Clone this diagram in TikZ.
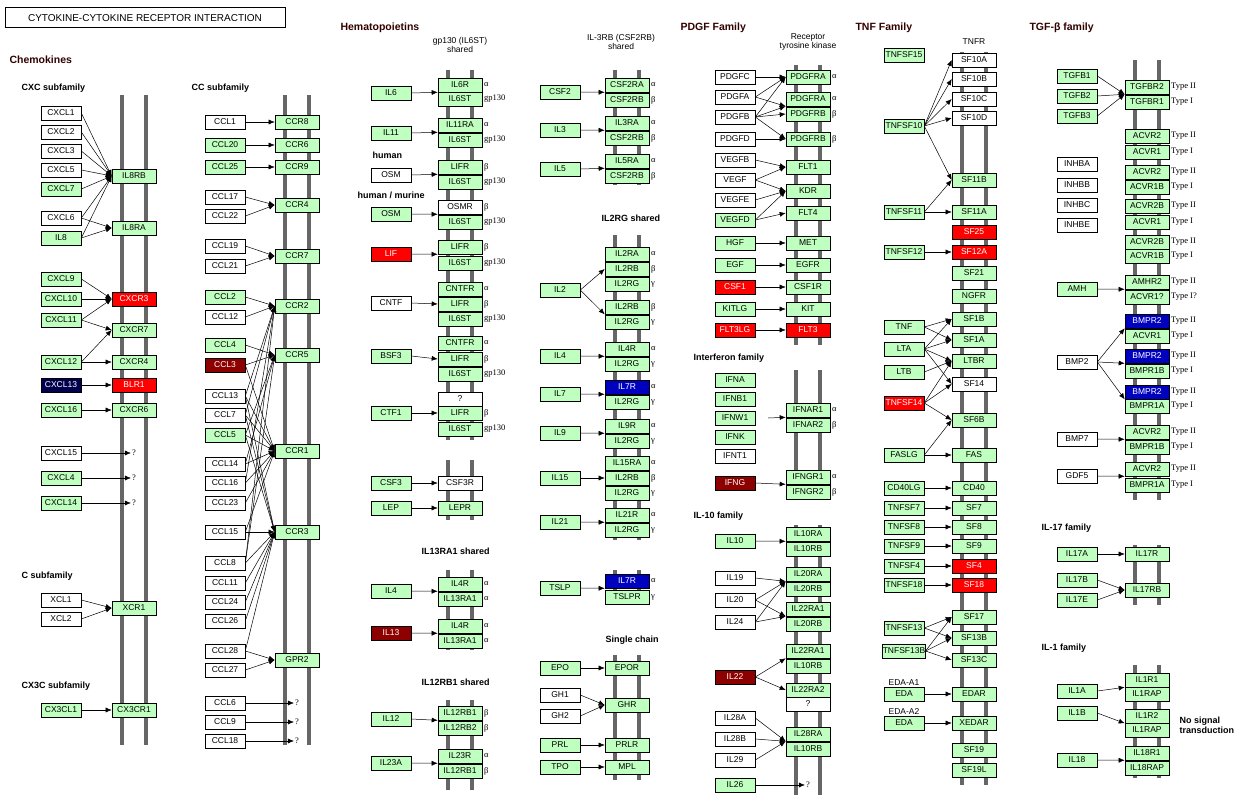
\documentclass[tikz,border=0pt]{standalone}
\usepackage{fontspec}
\setmainfont{Liberation Sans}
\newfontfamily\gkfont{Liberation Serif}
\usetikzlibrary{arrows.meta}
\begin{document}
\begin{tikzpicture}[x=1pt,y=-1pt,
 bx/.style={draw=black,line width=0.6pt,inner sep=0pt,minimum height=14pt,font=\fontsize{8.5}{9}\selectfont},
 L/.style={bx,minimum width=40pt},
 R/.style={bx,minimum width=44pt},
 cg/.style={fill=green!25!white},
 cw/.style={fill=white},
 cr/.style={fill=red,text=white},
 cd/.style={fill=red!55!black,text=white},
 cb/.style={fill=blue!75!black,text=white},
 cn/.style={fill=blue!30!black,text=white},
 st/.code={\edef\tmp{#1}\expandafter\pgfkeysalso\expandafter{\tmp}},
 gk/.style={anchor=west,inner sep=1pt,font=\gkfont\fontsize{8.5}{8}\selectfont},
 hd/.style={anchor=west,font=\bfseries\fontsize{9}{10}\selectfont},
 HD/.style={anchor=west,font=\bfseries\fontsize{10.5}{12}\selectfont,text=red!20!black},
 sh/.style={align=center,font=\fontsize{8.5}{9}\selectfont},
 ar/.style={-{Latex[length=6pt,width=5pt]},line width=0.5pt},
 mb/.style={line width=3.5pt,draw=black!60}]
\useasboundingbox[fill=white] (0,0) rectangle (1237,800);
\newcommand\Bars[3]{\draw[mb] (#1-12,#2) -- (#1-12,#3); \draw[mb] (#1+12,#2) -- (#1+12,#3);}
\newcommand\Rc[2]{\foreach \n/\y/\s/\t/\g in {#2} {\node[R,st=\s] (\n) at (#1,\y) {\t}; \node[gk] at (#1+23,\y) {\g};}}
\newcommand\Lc[2]{\foreach \n/\y/\s/\t in {#2} {\node[L,st=\s] (\n) at (#1,\y) {\t};}}
\newcommand\A[1]{\foreach \a/\b in {#1} \draw[ar] (\a.east) -- (\b.west);}
\newcommand\AP[1]{\foreach \a/\b in {#1} \draw[ar] (\a.east) -- (\b.south west);}
% membranes
\Bars{134}{95}{745}\Bars{297}{95}{745}
\Bars{460}{70}{440}\Bars{460}{460}{520}\Bars{460}{570}{650}\Bars{460}{700}{790}
\Bars{627}{70}{185}\Bars{627}{235}{540}\Bars{627}{570}{605}\Bars{627}{655}{780}
\Bars{808}{65}{345}\Bars{808}{370}{500}\Bars{808}{525}{795}
\Bars{974}{52}{785}
\Bars{1147}{60}{500}\Bars{1147}{545}{605}\Bars{1147}{665}{778}
% headings
\node[draw,line width=1pt,minimum width=280pt,minimum height=20pt,font=\fontsize{10}{11}\selectfont] (title) at (145,18) {CYTOKINE-CYTOKINE RECEPTOR INTERACTION};
\node[HD] (h1) at (6,60) {Chemokines};
\node[hd] (h2) at (18,88) {CXC subfamily};
\node[hd] (h3) at (188,88) {CC subfamily};
\node[hd] (h4) at (18,576) {C subfamily};
\node[hd] (h5) at (18,686) {CX3C subfamily};
\node[HD] (h6) at (337,28) {Hematopoietins};
\node[sh] (h7) at (460,45) {gp130 (IL6ST)\\shared};
\node[hd] (h8) at (369,155) {human};
\node[hd] (h9) at (354,195) {human / murine};
\node[hd] (h10) at (418,551) {IL13RA1 shared};
\node[hd] (h11) at (418,682) {IL12RB1 shared};
\node[sh] (h12) at (621,42) {IL-3RB (CSF2RB)\\shared};
\node[hd] (h13) at (598,218) {IL2RG shared};
\node[hd] (h14) at (602,640) {Single chain};
\node[HD] (h15) at (677,28) {PDGF Family};
\node[sh] (h16) at (808,42) {Receptor\\tyrosine kinase};
\node[hd] (h17) at (690,358) {Interferon family};
\node[hd] (h18) at (690,516) {IL-10 family};
\node[HD] (h19) at (852,28) {TNF Family};
\node[sh] (h20) at (974,42) {TNFR};
\node[HD] (h21) at (1026,28) {TGF-β family};
\node[hd] (h22) at (1038,528) {IL-17 family};
\node[hd] (h23) at (1038,648) {IL-1 family};
\node[hd,align=left] (h24) at (1176,725) {No signal\\transduction};
\node[sh] (h25) at (904,683) {EDA-A1};
\node[sh] (h26) at (904,712) {EDA-A2};
% ---------- CXC
\Rc{134}{IL8RB/176/cg/IL8RB/,IL8RA/228/cg/IL8RA/,CXCR3/299/cr/CXCR3/,CXCR7/330/cg/CXCR7/,CXCR4/362/cg/CXCR4/,BLR1/385/cr/BLR1/,CXCR6/410/cg/CXCR6/,XCR1/608/cg/XCR1/,CX3CR1/710/cg/CX3CR1/}
\foreach \n/\y in {q1/453,q2/478,q3/503} \node[gk,anchor=center] (\n) at (134,\y) {?};
\Lc{61}{CXCL1/113/cw/CXCL1,CXCL2/132/cw/CXCL2,CXCL3/151/cw/CXCL3,CXCL5/170/cw/CXCL5,CXCL7/189/cg/CXCL7,CXCL6/218/cw/CXCL6,IL8/238/cg/IL8,CXCL9/279/cg/CXCL9,CXCL10/299/cg/CXCL10,CXCL11/320/cg/CXCL11,CXCL12/362/cg/CXCL12,CXCL13/385/cn/CXCL13,CXCL16/410/cg/CXCL16,CXCL15/453/cw/CXCL15,CXCL4/478/cg/CXCL4,CXCL14/503/cg/CXCL14,XCL1/600/cw/XCL1,XCL2/619/cw/XCL2,CX3CL1/710/cg/CX3CL1}
\A{CXCL1/IL8RB,CXCL2/IL8RB,CXCL3/IL8RB,CXCL5/IL8RB,CXCL7/IL8RB,CXCL6/IL8RB,IL8/IL8RB,CXCL6/IL8RA,IL8/IL8RA,CXCL9/CXCR3,CXCL10/CXCR3,CXCL11/CXCR3,CXCL11/CXCR7,CXCL12/CXCR7,CXCL12/CXCR4,CXCL13/BLR1,CXCL16/CXCR6,CXCL15/q1,CXCL4/q2,CXCL14/q3,XCL1/XCR1,XCL2/XCR1,CX3CL1/CX3CR1}
% ---------- CC
\Rc{297}{CCR8/122/cg/CCR8/,CCR6/145/cg/CCR6/,CCR9/167/cg/CCR9/,CCR4/205/cg/CCR4/,CCR7/256/cg/CCR7/,CCR2/306/cg/CCR2/,CCR5/355/cg/CCR5/,CCR1/451/cg/CCR1/,CCR3/532/cg/CCR3/,GPR2/660/cg/GPR2/}
\foreach \n/\y in {q4/703,q5/722,q6/741} \node[gk,anchor=center] (\n) at (297,\y) {?};
\Lc{225}{CCL1/122/cw/CCL1,CCL20/145/cg/CCL20,CCL25/167/cg/CCL25,CCL17/197/cw/CCL17,CCL22/216/cw/CCL22,CCL19/246/cw/CCL19,CCL21/266/cw/CCL21,CCL2/297/cg/CCL2,CCL12/317/cw/CCL12,CCL4/345/cg/CCL4,CCL3/365/cd/CCL3,CCL13/396/cw/CCL13,CCL7/415/cw/CCL7,CCL5/435/cg/CCL5,CCL14/464/cw/CCL14,CCL16/483/cw/CCL16,CCL23/503/cw/CCL23,CCL15/532/cw/CCL15,CCL8/563/cw/CCL8,CCL11/583/cw/CCL11,CCL24/602/cw/CCL24,CCL26/621/cw/CCL26,CCL28/651/cw/CCL28,CCL27/670/cw/CCL27,CCL6/703/cw/CCL6,CCL9/722/cw/CCL9,CCL18/741/cw/CCL18}
\A{CCL1/CCR8,CCL20/CCR6,CCL25/CCR9,CCL17/CCR4,CCL22/CCR4,CCL19/CCR7,CCL21/CCR7,CCL2/CCR2,CCL12/CCR2,CCL13/CCR2,CCL7/CCR2,CCL8/CCR2,CCL16/CCR2,CCL4/CCR5,CCL3/CCR5,CCL5/CCR5,CCL8/CCR5,CCL14/CCR5,CCL3/CCR1,CCL5/CCR1,CCL7/CCR1,CCL13/CCR1,CCL14/CCR1,CCL15/CCR1,CCL16/CCR1,CCL23/CCR1,CCL5/CCR3,CCL7/CCR3,CCL8/CCR3,CCL11/CCR3,CCL13/CCR3,CCL15/CCR3,CCL24/CCR3,CCL26/CCR3,CCL28/CCR3,CCL28/GPR2,CCL27/GPR2,CCL6/q4,CCL9/q5,CCL18/q6}
% ---------- Hematopoietins
\Rc{460}{IL6R/85/cg/IL6R/α,IL6STa/99/cg/IL6ST/gp130,IL11RA/125/cg/IL11RA/α,IL6STb/140/cg/IL6ST/gp130,LIFRa/167/cg/LIFR/β,IL6STc/182/cg/IL6ST/gp130,OSMR/207/cw/OSMR/β,IL6STd/222/cg/IL6ST/gp130,LIFRb/247/cg/LIFR/β,IL6STe/263/cg/IL6ST/gp130,CNTFRa/289/cg/CNTFR/α,LIFRc/304/cg/LIFR/β,IL6STf/319/cg/IL6ST/gp130,CNTFRb/343/cg/CNTFR/α,LIFRd/359/cg/LIFR/β,IL6STg/374/cg/IL6ST/gp130,hq/399/cw/?/,LIFRe/413/cg/LIFR/β,IL6STh/429/cg/IL6ST/gp130,CSF3R/483/cw/CSF3R/,LEPR/508/cg/LEPR/,IL4Ra/584/cg/IL4R/α,IL13RA1a/599/cg/IL13RA1/α,IL4Rb/626/cg/IL4R/α,IL13RA1b/641/cg/IL13RA1/α,IL12RB1a/713/cg/IL12RB1/β,IL12RB2/728/cg/IL12RB2/β,IL23R/756/cg/IL23R/α,IL12RB1b/771/cg/IL12RB1/β}
\Lc{391}{IL6/93/cg/IL6,IL11/133/cg/IL11,OSMa/175/cw/OSM,OSMb/214/cg/OSM,LIF/254/cr/LIF,CNTF/303/cw/CNTF,BSF3/356/cg/BSF3,CTF1/413/cg/CTF1,CSF3/483/cg/CSF3,LEP/508/cg/LEP,IL4a/591/cg/IL4,IL13/633/cd/IL13,IL12/719/cg/IL12,IL23A/763/cg/IL23A}
\AP{IL6/IL6R,IL11/IL11RA,OSMa/LIFRa,OSMb/OSMR,LIF/LIFRb,IL4a/IL4Ra,IL13/IL4Rb,IL12/IL12RB1a,IL23A/IL23R}
\A{CNTF/LIFRc,BSF3/LIFRd,CTF1/LIFRe,CSF3/CSF3R,LEP/LEPR}
% ---------- IL-3RB / IL2RG
\Rc{627}{CSF2RA/85/cg/CSF2RA/α,CSF2RBa/100/cg/CSF2RB/β,IL3RA/123/cg/IL3RA/α,CSF2RBb/138/cg/CSF2RB/β,IL5RA/161/cg/IL5RA/α,CSF2RBc/176/cg/CSF2RB/β,IL2RA/254/cg/IL2RA/α,IL2RBa/269/cg/IL2RB/β,IL2RGa/284/cg/IL2RG/γ,IL2RBb/307/cg/IL2RB/β,IL2RGb/322/cg/IL2RG/γ,IL4Rc/349/cg/IL4R/α,IL2RGc/364/cg/IL2RG/γ,IL7Ra/387/cb/IL7R/α,IL2RGd/402/cg/IL2RG/γ,IL9R/426/cg/IL9R/α,IL2RGe/441/cg/IL2RG/γ,IL15RA/463/cg/IL15RA/α,IL2RBc/478/cg/IL2RB/β,IL2RGf/493/cg/IL2RG/γ,IL21R/515/cg/IL21R/α,IL2RGg/530/cg/IL2RG/γ,IL7Rb/581/cb/IL7R/α,TSLPR/597/cg/TSLPR/γ,EPOR/668/cg/EPOR/,GHR/705/cg/GHR/,PRLR/745/cg/PRLR/,MPL/767/cg/MPL/}
\Lc{560}{CSF2/92/cg/CSF2,IL3/130/cg/IL3,IL5/169/cg/IL5,IL2/290/cg/IL2,IL4b/356/cg/IL4,IL7/394/cg/IL7,IL9/433/cg/IL9,IL15/478/cg/IL15,IL21/522/cg/IL21,TSLP/588/cg/TSLP,EPO/668/cg/EPO,GH1/695/cw/GH1,GH2/716/cw/GH2,PRL/745/cg/PRL,TPO/767/cg/TPO}
\AP{CSF2/CSF2RA,IL3/IL3RA,IL5/IL5RA,IL2/IL2RBb,IL4b/IL4Rc,IL7/IL7Ra,IL9/IL9R,IL21/IL21R,TSLP/IL7Rb}
\A{IL2/IL2RBa,IL15/IL2RBc,EPO/EPOR,GH1/GHR,GH2/GHR,PRL/PRLR,TPO/MPL}
% ---------- PDGF / IFN / IL-10
\Rc{808}{PDGFRAa/77/cg/PDGFRA/α,PDGFRAb/99/cg/PDGFRA/α,PDGFRBa/114/cg/PDGFRB/β,PDGFRBb/139/cg/PDGFRB/β,FLT1/167/cg/FLT1/,KDR/191/cg/KDR/,FLT4/213/cg/FLT4/,MET/243/cg/MET/,EGFR/265/cg/EGFR/,CSF1R/287/cg/CSF1R/,KIT/309/cg/KIT/,FLT3/330/cr/FLT3/,IFNAR1/410/cg/IFNAR1/α,IFNAR2/425/cg/IFNAR2/β,IFNGR1/477/cg/IFNGR1/α,IFNGR2/492/cg/IFNGR2/β,IL10RA/534/cg/IL10RA/,IL10RBa/549/cg/IL10RB/,IL20RA/574/cg/IL20RA/,IL20RBa/589/cg/IL20RB/,IL22RA1a/609/cg/IL22RA1/,IL20RBb/624/cg/IL20RB/,IL22RA1b/651/cg/IL22RA1/,IL10RBb/666/cg/IL10RB/,IL22RA2/690/cg/IL22RA2/,pq1/704/cw/?/,IL28RA/734/cg/IL28RA/,IL10RBc/749/cg/IL10RB/}
\node[gk,anchor=center] (pq2) at (808,785) {?};
\Lc{735}{PDGFC/77/cw/PDGFC,PDGFA/97/cw/PDGFA,PDGFB/117/cw/PDGFB,PDGFD/139/cw/PDGFD,VEGFB/160/cw/VEGFB,VEGF/180/cw/VEGF,VEGFE/200/cw/VEGFE,VEGFD/220/cg/VEGFD,HGF/243/cg/HGF,EGF/265/cg/EGF,CSF1/287/cr/CSF1,KITLG/309/cg/KITLG,FLT3LG/330/cr/FLT3LG,IFNA/380/cg/IFNA,IFNB1/399/cg/IFNB1,IFNW1/418/cg/IFNW1,IFNK/437/cg/IFNK,IFNT1/456/cw/IFNT1,IFNG/483/cd/IFNG,IL10/541/cg/IL10,IL19/578/cw/IL19,IL20/600/cw/IL20,IL24/622/cw/IL24,IL22/677/cd/IL22,IL28A/718/cw/IL28A,IL28B/739/cw/IL28B,IL29/760/cw/IL29,IL26/785/cg/IL26}
\A{PDGFC/PDGFRAa,PDGFA/PDGFRAa,PDGFB/PDGFRAa,PDGFB/PDGFRBa,PDGFD/PDGFRBb,PDGFB/PDGFRBb,VEGFB/FLT1,VEGF/FLT1,VEGF/KDR,VEGFE/KDR,VEGFD/KDR,VEGFD/FLT4,HGF/MET,EGF/EGFR,CSF1/CSF1R,KITLG/KIT,FLT3LG/FLT3,IL22/IL22RA2,IL26/pq2}
\AP{PDGFA/PDGFRAb,PDGFB/PDGFRAb,IFNG/IFNGR1,IL10/IL10RA,IL19/IL20RA,IL20/IL20RA,IL20/IL22RA1a,IL24/IL20RA,IL24/IL22RA1a,IL22/IL22RA1b,IL28A/IL28RA,IL28B/IL28RA,IL29/IL28RA}
\coordinate (ifnc) at (768,418);
\draw[ar] (ifnc) -- (IFNAR1.south west);
% ---------- TNF
\Rc{974}{SF10A/60/cw/SF10A/,SF10B/79/cw/SF10B/,SF10C/99/cw/SF10C/,SF10D/118/cw/SF10D/,SF11B/180/cg/SF11B/,SF11A/212/cg/SF11A/,SF25/232/cr/SF25/,SF12A/252/cr/SF12A/,SF21/273/cg/SF21/,NGFR/296/cg/NGFR/,SF1B/319/cg/SF1B/,SF1A/340/cg/SF1A/,LTBR/361/cg/LTBR/,SF14/384/cw/SF14/,SF6B/420/cg/SF6B/,FAS/455/cg/FAS/,CD40/488/cg/CD40/,SF7/508/cg/SF7/,SF8/527/cg/SF8/,SF9/546/cg/SF9/,SF4/566/cr/SF4/,SF18/585/cr/SF18/,SF17/617/cg/SF17/,SF13B/638/cg/SF13B/,SF13C/660/cg/SF13C/,EDAR/694/cg/EDAR/,XEDAR/723/cg/XEDAR/,SF19/750/cg/SF19/,SF19L/770/cg/SF19L/}
\Lc{904}{TNFSF15/55/cg/TNFSF15,TNFSF10/126/cg/TNFSF10,TNFSF11/212/cg/TNFSF11,TNFSF12/252/cg/TNFSF12,TNF/327/cg/TNF,LTA/349/cg/LTA,LTB/372/cg/LTB,TNFSF14/403/cr/TNFSF14,FASLG/455/cg/FASLG,CD40LG/488/cg/CD40LG,TNFSF7/508/cg/TNFSF7,TNFSF8/527/cg/TNFSF8,TNFSF9/546/cg/TNFSF9,TNFSF4/566/cg/TNFSF4,TNFSF18/585/cg/TNFSF18,TNFSF13/628/cg/TNFSF13,TNFSF13B/651/cg/TNFSF13B,EDAa/694/cg/EDA,EDAb/723/cg/EDA}
\A{TNFSF10/SF10A,TNFSF10/SF10B,TNFSF10/SF10C,TNFSF10/SF10D,TNFSF10/SF11B,TNFSF11/SF11A,TNFSF11/SF11B,TNFSF12/SF12A,TNF/SF1B,TNF/SF1A,LTA/SF1B,LTA/SF1A,LTA/LTBR,LTA/SF14,LTB/LTBR,TNFSF14/LTBR,TNFSF14/SF14,TNFSF14/SF6B,FASLG/FAS,FASLG/SF6B,CD40LG/CD40,TNFSF7/SF7,TNFSF8/SF8,TNFSF9/SF9,TNFSF4/SF4,TNFSF18/SF18,TNFSF13/SF17,TNFSF13/SF13B,TNFSF13B/SF17,TNFSF13B/SF13B,TNFSF13B/SF13C,EDAa/EDAR,EDAb/XEDAR}
% ---------- TGF-beta
\Rc{1147}{TGFBR2/87/cg/TGFBR2/Type II,TGFBR1/102/cg/TGFBR1/Type I,ACVR2a/136/cg/ACVR2/Type II,ACVR1a/152/cg/ACVR1/Type I,ACVR2b/172/cg/ACVR2/Type II,ACVR1Ba/187/cg/ACVR1B/Type I,ACVR2Ba/206/cg/ACVR2B/Type II,ACVR1b/222/cg/ACVR1/Type I,ACVR2Bb/242/cg/ACVR2B/Type II,ACVR1Bb/256/cg/ACVR1B/Type I,AMHR2/282/cg/AMHR2/Type II,ACVR1c/297/cg/ACVR1?/Type I?,BMPR2a/321/cb/BMPR2/Type II,ACVR1d/336/cg/ACVR1/Type I,BMPR2b/356/cb/BMPR2/Type II,BMPR1Ba/371/cg/BMPR1B/Type I,BMPR2c/392/cb/BMPR2/Type II,BMPR1Aa/406/cg/BMPR1A/Type I,ACVR2c/432/cg/ACVR2/Type II,BMPR1Bb/447/cg/BMPR1B/Type I,ACVR2d/469/cg/ACVR2/Type II,BMPR1Ab/485/cg/BMPR1A/Type I,IL17R/554/cg/IL17R/,IL17RB/590/cg/IL17RB/,IL1R1/680/cg/IL1R1/,IL1RAPa/694/cg/IL1RAP/,IL1R2/716/cg/IL1R2/,IL1RAPb/730/cg/IL1RAP/,IL18R1/753/cg/IL18R1/,IL18RAP/768/cg/IL18RAP/}
\Lc{1077}{TGFB1/76/cg/TGFB1,TGFB2/96/cg/TGFB2,TGFB3/116/cg/TGFB3,INHBA/164/cw/INHBA,INHBB/185/cw/INHBB,INHBC/205/cw/INHBC,INHBE/225/cw/INHBE,AMH/289/cg/AMH,BMP2/362/cw/BMP2,BMP7/439/cw/BMP7,GDF5/476/cw/GDF5,IL17A/554/cg/IL17A,IL17B/580/cg/IL17B,IL17E/600/cg/IL17E,IL1A/691/cg/IL1A,IL1B/713/cg/IL1B,IL18/760/cg/IL18}
\AP{TGFB1/TGFBR2,TGFB2/TGFBR2,TGFB3/TGFBR2,AMH/AMHR2,BMP2/BMPR2a,BMP2/BMPR2b,BMP2/BMPR2c,BMP7/ACVR2c,GDF5/ACVR2d,IL1A/IL1R1,IL1B/IL1R2,IL18/IL18R1}
\A{IL17A/IL17R,IL17B/IL17RB,IL17E/IL17RB}
\end{tikzpicture}
\end{document}
